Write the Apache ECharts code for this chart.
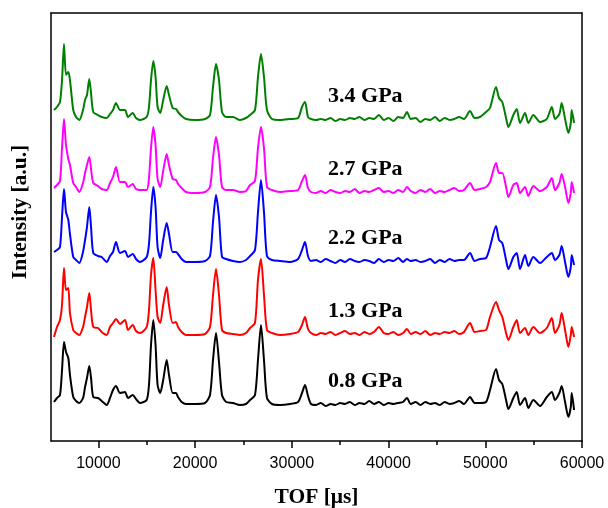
<!DOCTYPE html>
<html>
<head>
<meta charset="utf-8">
<script src="https://cdn.jsdelivr.net/npm/echarts@6/dist/echarts.min.js"></script>
<style>
html, body { margin: 0; padding: 0; background: #fff; }
#main { width: 608px; height: 508px; }
</style>
</head>
<body>
<div id="main"></div>
<script>
// TOF grid shared by all five spectra (µs)
var tof = [
    5410, 5720, 6030, 6240, 6444, 6650, 6890, 7060, 7400, 7690,
    8030, 8410, 8620, 8820, 9060, 9240, 9470, 9960, 10340, 10860,
    11200, 11510, 11820, 12230, 12750, 13060, 13550, 13890, 14300, 14990,
    15230, 15440, 15680, 15910, 16120, 16390, 16700, 17060, 17300, 17680,
    18030, 18230, 18610, 19060, 19990, 21020, 21540, 21850, 22160, 22470,
    22780, 23200, 23920, 24640, 25260, 25680, 26190, 26500, 26810, 27120,
    27430, 27950, 28780, 29810, 30640, 31050, 31360, 31670, 31980, 32500,
    33000, 33500, 34000, 34500, 35000, 35500, 36000, 36500, 37000, 37500,
    38000, 38500, 39000, 39500, 40000, 40500, 41000, 41500, 41900, 42300,
    42800, 43300, 43800, 44300, 44800, 45300, 45800, 46300, 46800, 47300,
    47800, 48420, 48900, 49460, 50080, 50490, 51110, 51420, 51760, 52150,
    52390, 52900, 53250, 53590, 54110, 54450, 54970, 55660, 56360, 56880,
    57210, 57660, 57900, 58250, 58590, 58840, 58940, 59180
];

// intensities (a.u., above each spectrum's own baseline)
var int08 = [
    3, 7, 10, 35, 63, 53, 47, 30, 8, 4,
    2, 7, 18, 27, 39, 27, 8, 7, 4, 0,
    7, 15, 19, 12, 13, 7, 10, 6, 2, 5,
    20, 60, 85, 60, 20, 12, 25, 45, 30, 12,
    12, 8, 3, 1, 1, 2, 10, 45, 72, 43,
    10, 3, 2, 0, 1, 5, 10, 45, 80, 45,
    7, 1, 0, 1, 3, 12, 20, 9, 1, 0,
    2, -1, 1, 0, 2, 1, 3, 0, 2, 1,
    4, 1, 3, 0, 2, 1, 2, 3, 7, 1,
    3, 0, 3, 1, 2, 0, 3, 1, 2, 4,
    1, 8, 2, 2, 3, 15, 36, 25, 21, 5,
    -4, 7, 13, 0, 7, -3, 5, -1, 8, 13,
    5, 12, 19, 3, -12, -2, 12, -5
];
var int13 = [
    -2, 8, 15, 30, 67, 45, 47, 22, 5, 2,
    0, 8, 18, 28, 42, 25, 8, 7, 3, 0,
    8, 12, 16, 11, 15, 5, 10, 4, 2, 8,
    25, 60, 77, 45, 18, 12, 30, 48, 30, 12,
    13, 8, 3, 0, 0, 1, 8, 40, 66, 40,
    5, 2, 1, 0, 2, 7, 12, 55, 76, 40,
    5, 2, 0, 1, 3, 10, 18, 6, 2, 0,
    2, 1, 3, 0, 2, 4, 1, 2, 0, 3,
    1, 3, 8, 2, 1, 3, 0, 2, 6, 1,
    3, 1, 4, 0, 2, 1, 3, 2, 4, 1,
    3, 12, 3, 4, 5, 18, 33, 25, 18, 2,
    -5, 8, 15, 2, 7, 0, 8, 2, 7, 17,
    2, 10, 22, 5, -12, 0, 8, -2
];
var int22 = [
    10, 12, 15, 45, 73, 50, 42, 28, 5, 2,
    -1, 10, 22, 35, 55, 35, 9, 6, 5, 0,
    6, 10, 20, 9, 11, 5, 8, 3, 0, 5,
    18, 50, 75, 55, 15, 4, 22, 39, 28, 10,
    10, 8, 3, 0, 0, 1, 6, 40, 67, 45,
    5, 3, 1, 0, 2, 6, 12, 50, 82, 50,
    6, 2, 1, 0, 3, 12, 20, 6, 1, 2,
    0, 3, 1, -1, 2, 0, 3, 1, 0, 2,
    1, -1, 3, 0, 2, 1, 4, 0, 3, 1,
    2, 0, 1, 3, -1, 2, 0, 3, 1, 2,
    2, 9, 1, 3, 4, 15, 36, 22, 19, 2,
    -7, 5, 9, -7, 7, -4, 5, -1, 5, 9,
    2, 7, 16, 0, -15, -5, 7, -3
];
var int27 = [
    5, 8, 12, 45, 74, 48, 34, 28, 10, 6,
    1, 10, 20, 28, 36, 24, 10, 7, 4, 3,
    10, 16, 26, 11, 11, 6, 9, 4, 3, 3,
    15, 45, 66, 48, 14, 6, 22, 39, 28, 14,
    13, 9, 5, 1, 0, 1, 6, 35, 56, 38,
    6, 3, 3, 1, 2, 8, 12, 45, 66, 45,
    6, 3, 1, 2, 3, 12, 18, 5, 1, 0,
    2, 0, 3, 1, 0, 2, 1, 4, 0, 2,
    1, 3, 5, 1, 2, 0, 3, 1, 6, 2,
    0, 3, 1, 4, 0, 2, 1, 3, 5, 2,
    3, 10, 3, 4, 6, 11, 30, 20, 20, 6,
    -4, 8, 10, 0, 6, -3, 7, 2, 6, 15,
    3, 10, 19, 6, -10, 0, 11, 0
];
var int34 = [
    10, 13, 18, 40, 76, 45, 48, 40, 10, 3,
    0, 10, 20, 25, 41, 27, 8, 5, 3, 2,
    6, 10, 17, 10, 10, 3, 7, 2, 0, 3,
    13, 40, 59, 43, 13, 7, 20, 34, 25, 12,
    11, 8, 4, 1, 0, 1, 5, 33, 56, 40,
    8, 3, 3, 0, 2, 5, 10, 43, 66, 43,
    10, 1, 0, 1, 2, 13, 18, 3, 1, 0,
    1, 0, 2, -1, 1, 0, 2, 1, 3, 0,
    2, 1, 5, 0, 2, -1, 3, 2, 8, 1,
    2, -2, 1, 0, 3, -1, 2, 0, 1, 3,
    1, 9, 2, 3, 8, 12, 33, 22, 18, 2,
    -7, 5, 11, -3, 7, -3, 5, -2, 1, 13,
    1, 6, 17, 1, -13, -3, 10, -3
];

var pressures = ['0.8 GPa', '1.3 GPa', '2.2 GPa', '2.7 GPa', '3.4 GPa'];
var spectra = [int08, int13, int22, int27, int34];
var offsets = [36, 106, 179, 248, 321];   // vertical stacking
var colors = ['#000000', '#ff0000', '#0000ff', '#ff00ff', '#008000'];

var majorTicks = [10000, 20000, 30000, 40000, 50000, 60000];
var minorTicks = [15000, 25000, 35000, 45000, 55000];

var serif = '"Liberation Serif", "Times New Roman", serif';
var black = { color: '#000', width: 1.5 };

var myChart = echarts.init(document.getElementById('main'));

var series = spectra.map(function (vals, k) {
    return {
        name: pressures[k],
        type: 'line',
        xAxisIndex: 0,
        showSymbol: false,
        symbol: 'none',
        smooth: 0.25,
        lineStyle: { color: colors[k], width: 2 },
        itemStyle: { color: colors[k] },
        data: tof.map(function (t, i) { return [t, vals[i] + offsets[k]]; }),
        markPoint: {
            symbol: 'circle',
            symbolSize: 1,
            itemStyle: { color: 'rgba(0,0,0,0)' },
            label: {
                show: true,
                position: 'inside',
                formatter: pressures[k],
                color: '#000',
                fontFamily: serif,
                fontWeight: 'bold',
                fontSize: 22
            },
            data: [{ coord: [37600, offsets[k] + 24] }]
        }
    };
});

option = {
    animation: false,
    backgroundColor: '#fff',
    grid: { left: 51, right: 26, top: 13, bottom: 67, outerBoundsMode: 'none', containLabel: false },
    xAxis: [{
        type: 'value',
        min: 5100,
        max: 60000,
        position: 'bottom',
        name: 'TOF [μs]',
        nameLocation: 'middle',
        nameGap: 45,
        nameTextStyle: { fontFamily: serif, fontWeight: 'bold', fontSize: 21.5, color: '#000' },
        axisLine: { show: true, lineStyle: black },
        axisTick: { show: true, inside: false, length: 7, customValues: majorTicks, lineStyle: black },
        axisLabel: {
            show: true, margin: 15, customValues: majorTicks,
            formatter: function (v) { return String(v); },
            fontFamily: '"Liberation Sans", Arial, sans-serif', fontSize: 16, color: '#000'
        },
        splitLine: { show: false }
    }, {
        // minor ticks
        type: 'value',
        min: 5100,
        max: 60000,
        position: 'bottom',
        axisLine: { show: false },
        axisTick: { show: true, inside: false, length: 4, customValues: minorTicks, lineStyle: black },
        axisLabel: { show: false },
        splitLine: { show: false }
    }, {
        // top frame
        type: 'value',
        min: 5100,
        max: 60000,
        position: 'top',
        axisLine: { show: true, lineStyle: black },
        axisTick: { show: false },
        axisLabel: { show: false },
        splitLine: { show: false }
    }],
    yAxis: [{
        type: 'value',
        min: 0,
        max: 428,
        position: 'left',
        name: 'Intensity [a.u.]',
        nameLocation: 'middle',
        nameGap: 20,
        nameTextStyle: { fontFamily: serif, fontWeight: 'bold', fontSize: 21.5, color: '#000', padding: [0, 0, 0, 30] },
        axisLine: { show: true, lineStyle: black },
        axisTick: { show: false },
        axisLabel: { show: false },
        splitLine: { show: false }
    }, {
        // right frame
        type: 'value',
        min: 0,
        max: 428,
        position: 'right',
        axisLine: { show: true, lineStyle: black },
        axisTick: { show: false },
        axisLabel: { show: false },
        splitLine: { show: false }
    }],
    series: series
};

myChart.setOption(option);
</script>
</body>
</html>
